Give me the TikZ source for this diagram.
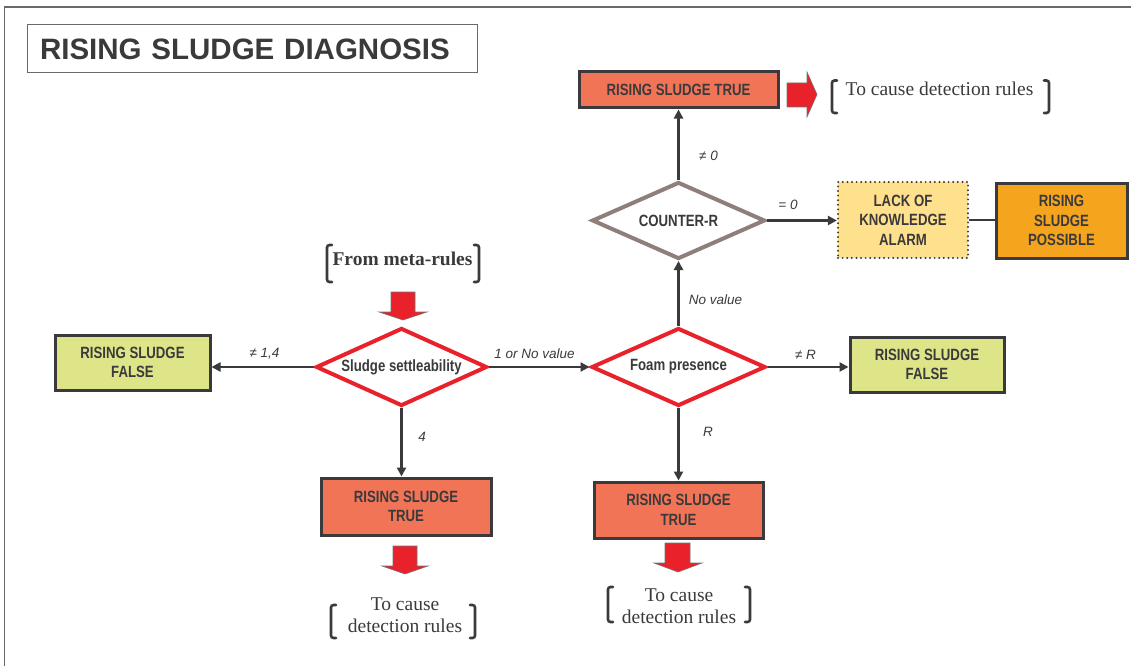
\documentclass[tikz,border=0pt]{standalone}
\usepackage{fontspec}
\setmainfont{Liberation Serif}
\newfontfamily\condsans[FakeStretch=0.81]{Liberation Sans}
\newfontfamily\plainsans{Liberation Sans}
\usetikzlibrary{arrows.meta,shapes.geometric}

\definecolor{ink}{HTML}{3A3A3C}
\definecolor{salmon}{HTML}{F27456}
\definecolor{lime}{HTML}{DDE588}
\definecolor{cream}{HTML}{FFE08C}
\definecolor{amber}{HTML}{F5A41E}
\definecolor{alarmred}{HTML}{E9212A}
\definecolor{taupe}{HTML}{8E7F7B}
\definecolor{framegray}{HTML}{6A6A6A}

\tikzset{
  box/.style={draw=ink, line width=3pt, text=ink, align=center, inner sep=0pt,
    font=\condsans\bfseries\fontsize{16.3}{19.5}\selectfont},
  truebox/.style={box, fill=salmon},
  falsebox/.style={box, fill=lime},
  possbox/.style={box, fill=amber},
  alarmbox/.style={box, fill=cream, line width=2.2pt, line cap=round,
    dash pattern=on 0pt off 4.6pt},
  test/.style={diamond, aspect=2.2, draw, line width=4pt, fill=white, text=ink,
    inner sep=0pt, font=\condsans\bfseries\fontsize{16.3}{18}\selectfont},
  conn/.style={draw=ink, line width=2.5pt, -{Triangle[length=9pt,width=9pt]}},
  link/.style={draw=ink, line width=2.5pt},
  lbl/.style={text=ink, inner sep=0pt, font=\plainsans\itshape\fontsize{13.5}{15}\selectfont},
  note/.style={text=ink, align=center, inner sep=0pt, font=\fontsize{19.5}{22.5}\selectfont},
  brk/.style={draw=ink, line width=2.6pt, rounded corners=2.5pt, line cap=round},
  bigarrow/.style={fill=alarmred, draw=black!55, line width=0.6pt},
  frame/.style={draw=framegray, line width=1.5pt},
}

% square brackets around a note: node, left dx, right dx, top dy, bottom dy
\newcommand\bracketpair[5]{%
  \draw[brk] ([shift={(#2+5,#4)}]#1.center) -- ([shift={(#2,#4)}]#1.center)
    -- ([shift={(#2,#5)}]#1.center) -- ([shift={(#2+5,#5)}]#1.center);
  \draw[brk] ([shift={(#3-5,#4)}]#1.center) -- ([shift={(#3,#4)}]#1.center)
    -- ([shift={(#3,#5)}]#1.center) -- ([shift={(#3-5,#5)}]#1.center);
}

\begin{document}
\begin{tikzpicture}[x=1pt, y=-1pt]
\useasboundingbox (0,0) rectangle (1131,666);

% page frame
\draw[frame] (4.5,666) -- (4.5,7) -- (1131,7);

% title
\node[draw=framegray, line width=1pt, minimum width=450pt, minimum height=48pt,
  inner xsep=13pt, inner ysep=0pt, text width=424pt, align=left, text=ink,
  font=\plainsans\bfseries\fontsize{29.5}{36}\selectfont] (title) at (252,49)
  {RISING SLUDGE DIAGNOSIS};

% decision tests
\node[test, draw=alarmred, minimum width=171pt, minimum height=78pt] (sludge) at (401.5,367) {Sludge settleability};
\node[test, draw=alarmred, minimum width=174pt, minimum height=78pt] (foam) at (678.5,367) {Foam presence};
\node[test, draw=taupe, minimum width=173pt, minimum height=77pt] (counter) at (678.5,220.5) {COUNTER-R};

% outcomes
\node[truebox, minimum width=199pt, minimum height=36pt] (ttop) at (678.5,90) {RISING SLUDGE TRUE};
\node[truebox, minimum width=170pt, minimum height=57pt] (tleft) at (406,506.5) {RISING SLUDGE\\TRUE};
\node[truebox, minimum width=169pt, minimum height=56pt] (tmid) at (678.5,510) {RISING SLUDGE\\TRUE};
\node[falsebox, minimum width=155pt, minimum height=55pt] (lfalse) at (132.5,362.5) {RISING SLUDGE\\FALSE};
\node[falsebox, minimum width=154pt, minimum height=55pt] (rfalse) at (927,364.5) {RISING SLUDGE\\FALSE};
\node[alarmbox, minimum width=130pt, minimum height=76pt] (alarm) at (903,220) {LACK OF\\KNOWLEDGE\\ALARM};
\node[possbox, minimum width=131pt, minimum height=75pt] (poss) at (1061.5,220.5) {RISING\\SLUDGE\\POSSIBLE};

% connectors
\draw[conn] (counter.north) -- (ttop.south);
\draw[conn] (counter.east) -- (counter.east -| alarm.west);
\draw[link] (alarm.east) -- (alarm.east -| poss.west);
\draw[conn] (foam.north) -- (counter.south);
\draw[conn] (foam.east) -- (foam.east -| rfalse.west);
\draw[conn] (foam.south) -- (tmid.north);
\draw[conn] (sludge.west) -- (sludge.west -| lfalse.east);
\draw[conn] (sludge.east) -- (foam.west);
\draw[conn] (sludge.south) -- (sludge.south |- tleft.north);

% branch values
\node[lbl] (l0) at (708.5,155.5) {≠ 0};
\node[lbl] (leq) at (788,205) {= 0};
\node[lbl] (lnv) at (715.5,299.5) {No value};
\node[lbl] (l14) at (264.5,353.5) {≠ 1,4};
\node[lbl] (lone) at (534.5,353.5) {1 or No value};
\node[lbl] (lnr) at (805.5,355) {≠ R};
\node[lbl] (lr) at (708,432) {R};
\node[lbl] (l4) at (422,437) {4};

% notes
\node[note] (cause0) at (939.5,88.5) {To cause detection rules};
\node[note, font=\bfseries\fontsize{19.5}{22.5}\selectfont] (meta) at (402.5,258.5) {From meta-rules};
\node[note] (cause1) at (405,615) {To cause\\detection rules};
\node[note] (cause2) at (679,606) {To cause\\detection rules};

\bracketpair{cause0}{-107.5}{109.5}{-8}{24.5}
\bracketpair{meta}{-75.5}{76.5}{-13.5}{23.5}
\bracketpair{cause1}{-74}{70}{-10}{23}
\bracketpair{cause2}{-71}{71}{-19}{16}

% block arrows towards and from the notes
\path[bigarrow] (787,83) -- (807,83) -- (807,72) -- (817,94.5) -- (807,117) -- (807,107) -- (787,107) -- cycle;
\path[bigarrow] (391,292) -- (415,292) -- (415,312) -- (427,312) -- (403,320) -- (379,312) -- (391,312) -- cycle;
\path[bigarrow] (393,546) -- (417,546) -- (417,566) -- (428,566) -- (405,574) -- (382,566) -- (393,566) -- cycle;
\path[bigarrow] (665,543) -- (690,543) -- (690,563) -- (702,563) -- (678,572) -- (654,563) -- (665,563) -- cycle;
\end{tikzpicture}
\end{document}
